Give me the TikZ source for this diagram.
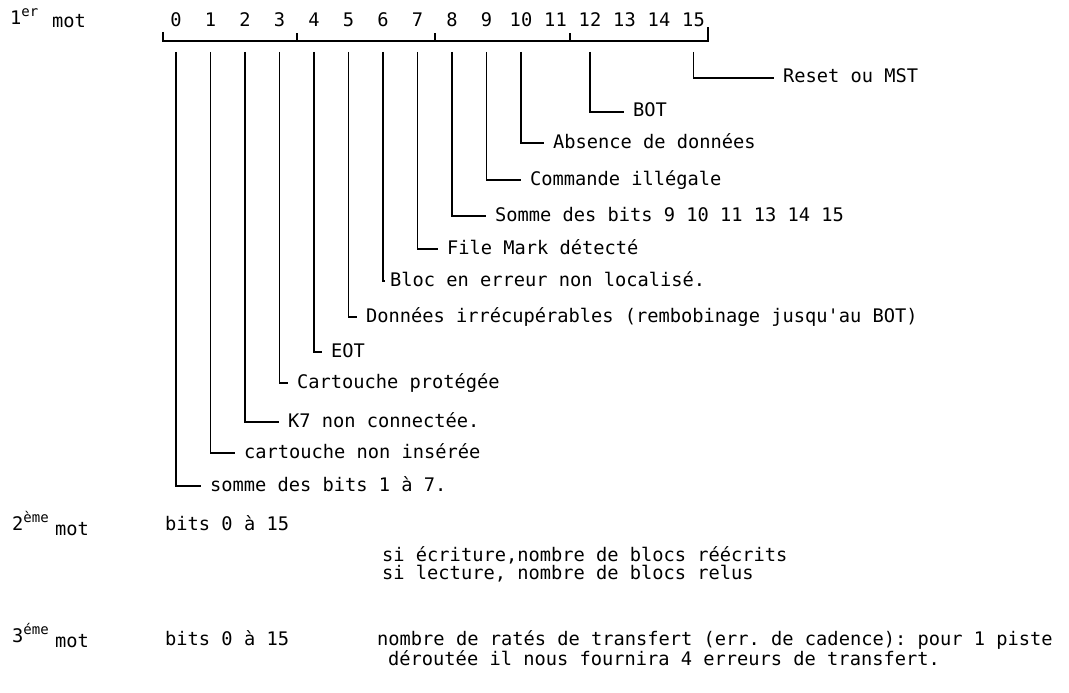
\documentclass[tikz,border=0pt]{standalone}
\usepackage{fontspec}
\setmonofont{DejaVu Sans Mono}
\usetikzlibrary{positioning}

\newcommand{\ordsup}[1]{\raisebox{8pt}{\fontsize{14}{14}\selectfont #1}}

\begin{document}
\begin{tikzpicture}[x=1pt, y=-1pt,
      txt/.style={font=\ttfamily\fontsize{18.7}{20}\selectfont, inner sep=0pt,
                  text height=10pt, text depth=0pt, anchor=west},
      bit/.style={font=\ttfamily\fontsize{18.7}{20}\selectfont, inner sep=0pt},
      lbl/.style={txt, outer xsep=9pt},
      lead/.style={line width=1.6pt}]
    \useasboundingbox (0,0) rectangle (1069,693);
    % bits of the first word
    \foreach \i in {0,...,15}
      \node[bit] (b\i) at ({176+34.5*\i},20) {\i};
    \draw[lead] (163,32) |- (708,41) -- (708,27);
    \foreach \t in {297,435,570}
      \draw[lead] (\t,41) -- (\t,33);
    \coordinate (top) at (0,52);
    \node[txt] (n1) at (10,20) {1\ordsup{er}};
    \node[txt] (m1) at (52,23) {mot};
    % meaning of each bit
    \node[lbl] (l0) at (201,486) {somme des bits 1 à 7.};
    \node[lbl] (l1) at (235,453) {cartouche non insérée};
    \node[lbl] (l2) at (279,422) {K7 non connectée.};
    \node[lbl] (l3) at (288,383) {Cartouche protégée};
    \node[lbl] (l4) at (322,352) {EOT};
    \node[lbl] (l5) at (357,317) {Données irrécupérables (rembobinage jusqu'au BOT)};
    \node[lbl, outer xsep=5pt] (l6) at (385,281) {Bloc en erreur non localisé.};
    \node[lbl] (l7) at (438,249) {File Mark détecté};
    \node[lbl] (l8) at (486,216) {Somme des bits 9 10 11 13 14 15};
    \node[lbl] (l9) at (521,180) {Commande illégale};
    \node[lbl] (l10) at (544,143) {Absence de données};
    \node[lbl] (l12) at (624,112) {BOT};
    \node[lbl] (l15) at (774,78) {Reset ou MST};
    \foreach \i in {0,...,10,12,15}
      \draw[lead] (b\i |- top) |- (l\i.west);
    % second and third words
    \node[txt] (n2) at (12,525) {2\ordsup{ème}};
    \node[txt] (m2) at (55,530) {mot};
    \node[txt] (w2) at (165,525) {bits 0 à 15};
    \node[txt] (s1) at (382,556) {si écriture,nombre de blocs réécrits};
    \node[txt] (s2) at (382,574) {si lecture, nombre de blocs relus};
    \node[txt] (n3) at (12,637) {3\ordsup{éme}};
    \node[txt] (m3) at (55,642) {mot};
    \node[txt] (w3) at (165,640) {bits 0 à 15};
    \node[txt] (t1) at (377,640) {nombre de ratés de transfert (err. de cadence): pour 1 piste};
    \node[txt] (t2) at (388,660) {déroutée il nous fournira 4 erreurs de transfert.};
  \end{tikzpicture}
\end{document}
